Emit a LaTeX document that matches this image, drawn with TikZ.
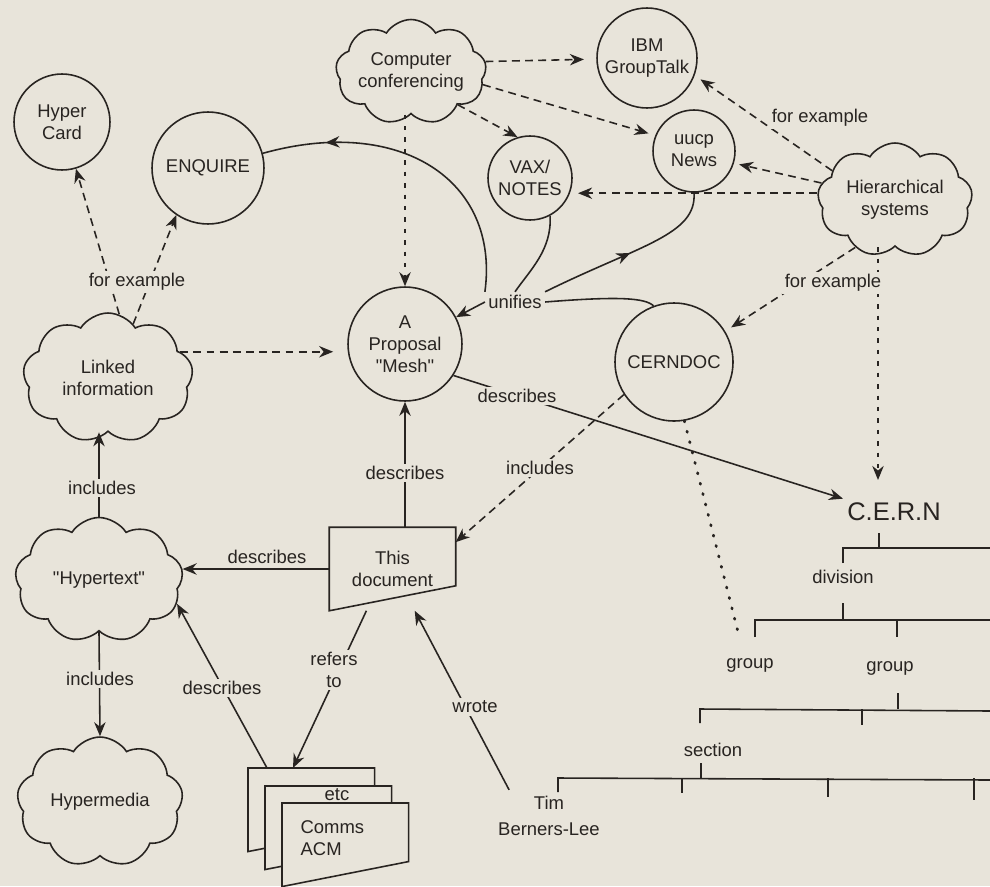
\documentclass[tikz,border=0pt]{standalone}
\usepackage{fontspec}
\setmainfont{Liberation Sans}
\usepackage{xcolor}
\usetikzlibrary{shapes.symbols,arrows.meta,decorations.markings}

\definecolor{paper}{RGB}{232,228,218}
\definecolor{ink}{RGB}{40,36,33}

\tikzset{
  bubble/.style={circle, draw=ink, align=center, inner sep=0pt},
  puff/.style={cloud, draw=ink, cloud puffs=9, cloud puff arc=115, cloud ignores aspect, align=center, inner sep=0pt},
  lbl/.style={fill=paper, inner sep=1.5pt, align=center},
  dsh/.style={dash pattern=on 4.5pt off 3pt},
  sdsh/.style={dash pattern=on 2.5pt off 4pt},
  tip/.style={-{Stealth[length=8pt,width=6.5pt]}},
  midarrow/.style={postaction={decorate, decoration={markings, mark=at position #1 with {\arrow{Stealth[length=8pt,width=6.5pt]}}}}},
  sheetbox/.style={minimum width=2.5cm, minimum height=1.64cm, inner sep=0pt, anchor=north west}
}

\begin{document}
\begin{tikzpicture}[x=0.02cm, y=-0.02cm, color=ink, line width=0.9pt,
    font=\fontsize{10.5}{12.5}\selectfont]
  \fill[paper] (0,0) rectangle (990,886);
  \useasboundingbox (0,0) rectangle (990,886);

  % systems
  \node[bubble, minimum size=1.92cm] (hypercard) at (62,122) {Hyper\\Card};
  \node[bubble, minimum size=2.24cm] (enquire) at (208,168) {ENQUIRE};
  \node[bubble, minimum size=2.0cm] (ibm) at (647,58) {IBM\\GroupTalk};
  \node[bubble, minimum size=1.64cm] (uucp) at (694,151) {uucp\\News};
  \node[bubble, minimum size=1.68cm] (vax) at (530,178) {VAX/\\NOTES};
  \node[bubble, minimum size=2.28cm] (mesh) at (405,344) {A\\Proposal\\\textquotedbl Mesh\textquotedbl};
  \node[bubble, minimum size=2.36cm] (cerndoc) at (674,362) {CERNDOC};

  % ideas
  \node[puff, minimum width=2.84cm, minimum height=2.1cm] (conf) at (411,72) {Computer\\conferencing};
  \node[puff, minimum width=3.1cm, minimum height=2.28cm] (hier) at (895,200) {Hierarchical\\systems};
  \node[puff, minimum width=3.4cm, minimum height=2.6cm] (linked) at (108,378) {Linked\\information};
  \node[puff, minimum width=3.36cm, minimum height=2.5cm] (hypertext) at (99,580) {\textquotedbl Hypertext\textquotedbl};
  \node[puff, minimum width=3.32cm, minimum height=2.6cm] (hypermedia) at (100,802) {Hypermedia};

  % this document
  \node[minimum width=2.5cm, minimum height=1.64cm, inner sep=0pt, align=center] (doc) at (392.5,569) {This\\document};
  \draw (doc.north west) -- (doc.north east) -- ([yshift=0.5cm]doc.south east) -- (doc.south west) -- cycle;

  % papers
  \foreach \s/\x/\y in {sheet1/248/768, sheet2/265/786, sheet3/282/803} {
    \node[sheetbox] (\s) at (\x,\y) {};
    \draw[fill=paper] (\s.north west) -- (\s.north east) -- ([yshift=0.5cm]\s.south east) -- (\s.south west) -- cycle;
  }
  \node (etc) at (337,795) {etc};
  \node[anchor=west, align=left] (comms) at (294,838) {Comms\\ACM};

  % organisation
  \node[font=\fontsize{14.5}{16}\selectfont, inner sep=2pt] (cern) at (894,512) {C.E.R.N};
  \node (division) at (843,577) {division};
  \node (group1) at (750,665) {group};
  \node (group2) at (890,668) {group};
  \node (section) at (713,750) {section};
  \node[align=center] (tim) at (549,816) {Tim\\[2pt]Berners-Lee};
  \coordinate (cernin) at (878,480);
  \coordinate (dotend) at (738,632);

  \draw (879,533) -- (879,548);
  \draw (843,563) -- (843,548) -- (990,548);
  \draw (843,603) -- (843,620);
  \draw (755,637) -- (755,620) -- (990,620);
  \draw (897,620) -- (897,637);
  \draw (898,693) -- (898,709);
  \draw (700,723) -- (700,709) -- (990,711);
  \draw (862,709) -- (862,725);
  \draw (701,763) -- (701,778);
  \draw (558,792) -- (558,778) -- (990,780);
  \foreach \x/\y in {682/793, 828/797, 974/800}
    \draw (\x,778) -- (\x,\y);

  % unifies
  \node[lbl] (unifies) at (515,302) {unifies};
  \draw[tip] (unifies.west) -- (mesh);
  \draw[midarrow=0.8] (unifies.north west) .. controls (500,180) and (400,115) .. (enquire.15);
  \draw (unifies.north) .. controls (530,270) and (552,250) .. (vax.-62);
  \draw[midarrow=0.5] (unifies.north east) .. controls (640,245) and (697,235) .. (uucp.south);
  \draw (unifies.east) .. controls (620,296) and (645,298) .. (cerndoc.110);

  % for example
  \draw[dsh,tip] (linked.80) -- (hypercard);
  \draw[dsh,tip] (linked.65) -- (enquire.-124);
  \draw[dsh,tip,shorten >=8pt] (linked.20) -- (linked.20 -| mesh.west);
  \draw[sdsh,tip] (conf.south -| mesh) -- (mesh);
  \draw[dsh,tip,shorten >=7pt] (conf.8) -- (ibm);
  \draw[dsh,tip,shorten >=4pt] (conf.-10) -- (uucp.158);
  \draw[dsh,tip] (conf.-35) -- (vax.107);
  \draw[dsh,tip,shorten >=4pt] (hier.155) -- (ibm.-20);
  \draw[dsh,tip,shorten >=3pt] (hier.167) -- (uucp.-17);
  \draw[dsh,tip,shorten >=3pt] (hier.175) -- (hier.175 -| vax.east);
  \draw[dsh,tip,shorten >=4pt] (hier.-130) -- (cerndoc.31);
  \draw[sdsh,tip] (hier.south -| cernin) -- (cernin);

  % describes, includes
  \draw[tip] (mesh.-33) -- (cern.north west);
  \draw[tip] (doc.north -| mesh) -- (mesh);
  \draw[dsh,tip] (cerndoc.-147) -- (doc.23);
  \draw[dash pattern=on 0.6pt off 5.5pt, line cap=round, line width=1.6pt] (cerndoc.-80) -- (dotend);
  \draw[tip] (doc.west) -- (doc.west -| hypertext.east);
  \draw[tip] (hypertext.north) -- (hypertext.north |- linked.south);
  \draw[tip] (hypertext.south) -- (hypermedia.north);
  \draw[tip] ([xshift=0.38cm]sheet1.north west) -- (hypertext.-17);
  \draw[tip] (doc.-122) -- ([xshift=0.9cm]sheet1.north west);
  \draw[tip] ([xshift=0.35cm]tim.north west) -- (doc.-62);

  % labels
  \node[lbl] at (137,282) {for example};
  \node[lbl] at (820,118) {for example};
  \node[lbl] at (833,283) {for example};
  \node[lbl] at (517,396) {describes};
  \node[lbl] at (405,473) {describes};
  \node[lbl] at (540,468) {includes};
  \node[lbl] at (102,488) {includes};
  \node[lbl] at (267,557) {describes};
  \node[lbl] at (100,679) {includes};
  \node[lbl] at (222,688) {describes};
  \node[lbl] at (334,670) {refers\\to};
  \node[lbl] at (475,707) {wrote};
\end{tikzpicture}
\end{document}
